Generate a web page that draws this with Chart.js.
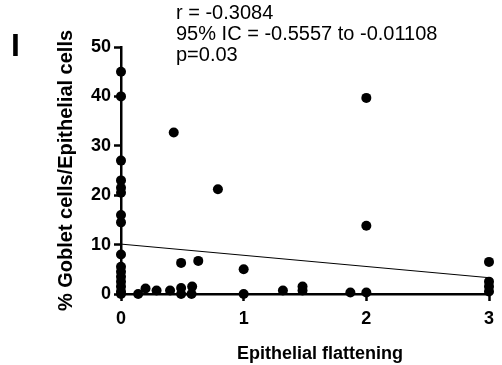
<!DOCTYPE html>
<html>
<head>
<meta charset="utf-8">
<script src="https://cdn.jsdelivr.net/npm/chart.js@4"></script>
<style>
  body { margin: 0; background: #fff; }
  #wrap { width: 502px; height: 365px; position: relative; }
</style>
</head>
<body>
<div id="wrap"><canvas id="chart"></canvas></div>
<script>
// epithelial flattening score (x) vs % goblet cells (y)
const flattening = [
  0, 0, 0, 0, 0, 0, 0, 0, 0, 0, 0, 0, 0, 0, 0, 0,
  0.14, 0.2, 0.29, 0.4, 0.43, 0.49, 0.49, 0.49, 0.58, 0.575, 0.63, 0.79,
  1, 1, 1.32, 1.48, 1.48, 1.87, 2, 2, 2, 3, 3, 3, 3
];
const gobletPct = [
  45, 40, 27, 23, 21.5, 20.5, 16, 14.5, 8, 5.5, 4.5, 3.5, 2.5, 1.5, 0.5, 0,
  0, 1.1, 0.7, 0.7, 32.7, 6.3, 1.2, 0, 1.5, 0, 6.7, 21.2,
  5, 0, 0.7, 1.5, 0.7, 0.3, 0.3, 39.7, 13.8, 6.5, 2.5, 1.5, 0.5
];
// regression line end points
const fitX = [0, 3];
const fitY = [10.1, 3.3];

const xTicks = [0, 1, 2, 3];
const yTicks = [0, 10, 20, 30, 40, 50];
const statLines = ['r = -0.3084', '95% IC = -0.5557 to -0.01108', 'p=0.03'];
const panelLabel = 'I';
const xTitle = 'Epithelial flattening';

const FONT = '"Liberation Sans", Arial, sans-serif';

const textPlugin = {
  id: 'annot',
  afterDraw(chart) {
    const ctx = chart.ctx;
    ctx.save();
    ctx.fillStyle = '#000';
    ctx.textBaseline = 'middle';
    ctx.textAlign = 'left';
    ctx.font = '20px ' + FONT;
    statLines.forEach((t, i) => ctx.fillText(t, 176, 13 + i * 21));
    ctx.font = 'bold 32px ' + FONT;
    ctx.fillText(panelLabel, 11, 47);
    ctx.textAlign = 'center';
    ctx.font = 'bold 18px ' + FONT;
    ctx.fillText(xTitle, 320, 354);
    ctx.restore();
  }
};

const points = flattening.map((x, i) => ({ x: x, y: gobletPct[i] }));
const fit = fitX.map((x, i) => ({ x: x, y: fitY[i] }));

const axisCommon = {
  grid: { display: true, drawOnChartArea: false, drawTicks: true, tickLength: 7, tickColor: '#000', tickWidth: 2.5 },
  border: { display: true, color: '#000', width: 2.5 }
};

new Chart(document.getElementById('chart'), {
  type: 'scatter',
  data: {
    datasets: [
      {
        data: points,
        backgroundColor: '#000',
        borderWidth: 0,
        pointRadius: 5,
        pointHoverRadius: 5,
        clip: false
      },
      {
        type: 'line',
        data: fit,
        borderColor: '#000',
        borderWidth: 1,
        pointRadius: 0,
        fill: false,
        clip: false
      }
    ]
  },
  options: {
    responsive: true,
    maintainAspectRatio: false,
    animation: false,
    events: [],
    layout: { padding: { top: 47, right: 13, left: 0, bottom: 0 } },
    plugins: { legend: { display: false }, tooltip: { enabled: false } },
    scales: {
      x: {
        ...axisCommon,
        type: 'linear',
        min: 0, max: 3,
        afterBuildTicks: s => { s.ticks = xTicks.map(v => ({ value: v })); },
        afterFit: s => { s.height = 71; },
        ticks: { color: '#000', padding: 7, maxRotation: 0, font: { family: FONT, size: 18, weight: 'bold' } },
        title: { display: false }
      },
      y: {
        ...axisCommon,
        type: 'linear',
        min: 0, max: 50,
        afterBuildTicks: s => { s.ticks = yTicks.map(v => ({ value: v })); },
        afterFit: s => { s.width = 121; },
        ticks: { color: '#000', padding: 3, font: { family: FONT, size: 18, weight: 'bold' } },
        title: { display: true, text: '% Goblet cells/Epithelial cells', color: '#000', padding: { top: 54, bottom: 0 }, font: { family: FONT, size: 20, weight: 'bold' } }
      }
    }
  },
  plugins: [textPlugin]
});
</script>
</body>
</html>
